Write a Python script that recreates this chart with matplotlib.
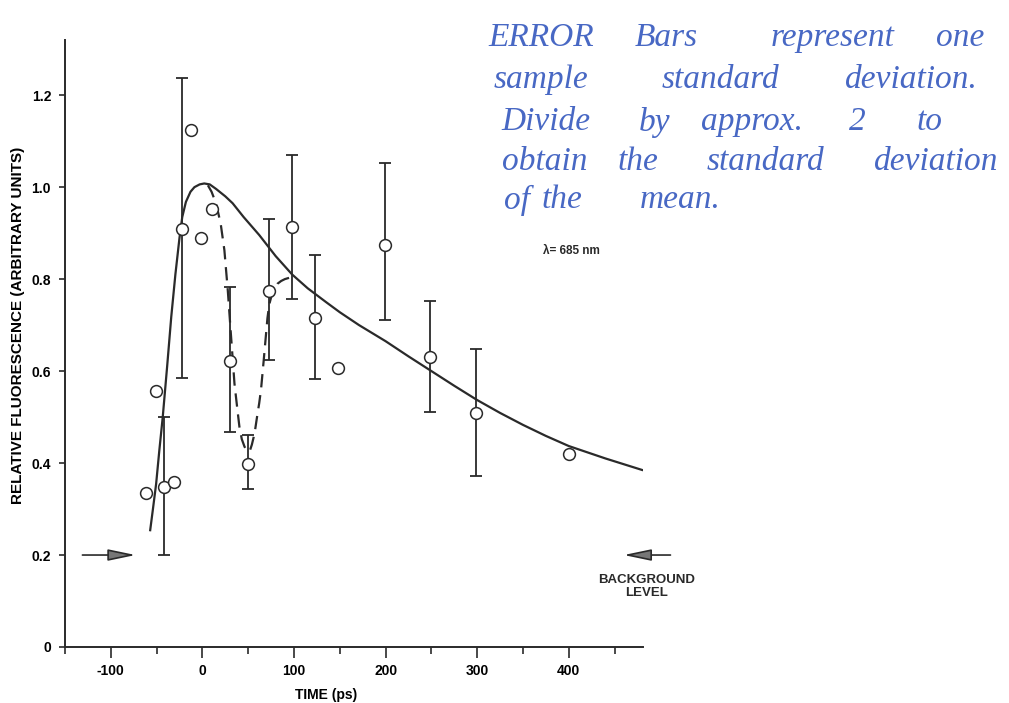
import matplotlib
matplotlib.use('Agg')
import matplotlib.pyplot as plt
from matplotlib.ticker import MultipleLocator

plt.rcParams['font.family'] = ['Liberation Sans', 'DejaVu Sans']

# measured points (time in ps, relative fluorescence)
t_pts = [-62, -51, -42, -31, -22, -12, -1, 10, 30, 50, 73, 98, 123, 148, 199, 249, 299, 400]
f_pts = [0.335, 0.557, 0.349, 0.359, 0.908, 1.125, 0.89, 0.952, 0.622, 0.398,
         0.775, 0.914, 0.716, 0.607, 0.874, 0.631, 0.509, 0.42]

# error bars (one sample standard deviation)
err_t = [-42, -22, 30, 50, 73, 98, 123, 199, 249, 299]
err_lo = [0.20, 0.585, 0.468, 0.343, 0.624, 0.756, 0.582, 0.712, 0.512, 0.372]
err_hi = [0.50, 1.237, 0.783, 0.461, 0.93, 1.07, 0.853, 1.053, 0.752, 0.647]

# solid fitted curve
fit_t = [-57, -54, -50.5, -47, -43.3, -38.5, -34, -29.5, -25, -22, -18, -13, -8.7, -3, 2,
         8, 15, 25, 33, 45, 62, 80, 98, 115, 135, 150, 171, 200, 225, 250, 275, 300,
         325, 350, 375, 400, 440, 480]
fit_y = [0.254, 0.30, 0.355, 0.428, 0.50, 0.61, 0.718, 0.81, 0.89, 0.935, 0.968, 0.99,
         1.0, 1.006, 1.008, 1.006, 0.996, 0.98, 0.965, 0.935, 0.896, 0.85, 0.81, 0.78,
         0.75, 0.728, 0.70, 0.665, 0.632, 0.60, 0.568, 0.537, 0.509, 0.483, 0.459,
         0.437, 0.41, 0.385]

# dashed curve through the dip
dash_t = [6, 10, 15, 20, 24, 27.7, 31.3, 35, 38, 40.4, 43, 45.9, 48, 50, 52, 54, 57,
          60, 62, 64, 67, 69, 71, 73, 76, 79, 82, 86, 90, 95, 98]
dash_y = [1.004, 0.99, 0.964, 0.92, 0.863, 0.776, 0.675, 0.573, 0.52, 0.479, 0.452,
          0.436, 0.428, 0.425, 0.428, 0.44, 0.465, 0.505, 0.53, 0.56, 0.625, 0.67,
          0.715, 0.745, 0.768, 0.78, 0.79, 0.796, 0.80, 0.803, 0.805]

xticks = [-100, 0, 100, 200, 300, 400]
xtick_labels = ['-100', '0', '100', '200', '300', '400']
yticks = [0, 0.2, 0.4, 0.6, 0.8, 1.0, 1.2]
ytick_labels = ['0', '0.2', '0.4', '0.6', '0.8', '1.0', '1.2']

ink = '#2a2a2a'

fig = plt.figure(figsize=(10.09, 7.03), dpi=100)
ax = fig.add_axes([65 / 1009, 1 - 647 / 703, 578 / 1009, 607 / 703])

ax.plot(fit_t, fit_y, color=ink, lw=1.6, zorder=2)
ax.plot(dash_t, dash_y, color=ink, lw=1.6, dashes=(6, 3.5), zorder=2)

# error bars
err_mid = [f_pts[t_pts.index(t)] for t in err_t]
yerr = [[m - lo for m, lo in zip(err_mid, err_lo)],
        [hi - m for m, hi in zip(err_mid, err_hi)]]
ax.errorbar(err_t, err_mid, yerr=yerr, fmt='none',
            ecolor=ink, elinewidth=1.3, capsize=4.5, capthick=1.3, zorder=3)

ax.plot(t_pts, f_pts, 'o', ms=8.5, mfc='white', mec=ink, mew=1.1, zorder=4)

ax.set_xlim(-150, 481)
ax.set_ylim(0, 1.32)
ax.spines['top'].set_visible(False)
ax.spines['right'].set_visible(False)
for s in ['left', 'bottom']:
    ax.spines[s].set_linewidth(1.4)
    ax.spines[s].set_color(ink)

ax.set_xticks(xticks)
ax.set_xticklabels(xtick_labels, fontsize=10, fontweight='bold')
ax.xaxis.set_minor_locator(MultipleLocator(50))
ax.set_yticks(yticks)
ax.set_yticklabels(ytick_labels, fontsize=10, fontweight='bold')
ax.tick_params(axis='x', which='major', length=8, width=1.2, color=ink, pad=4)
ax.tick_params(axis='x', which='minor', length=5, width=1.2, color=ink)
ax.tick_params(axis='y', which='major', length=4, width=1.2, color=ink, pad=6)

ax.set_xlabel('TIME (ps)', fontsize=10, fontweight='bold', va='center')
ax.xaxis.set_label_coords(0.452, -0.079)
ax.set_ylabel('RELATIVE FLUORESCENCE (ARBITRARY UNITS)', fontsize=11,
              fontweight='bold', va='center')
ax.yaxis.set_label_coords(-0.081, 0.53)

# background level arrows
arr = dict(arrowstyle='-|>,head_length=1.2,head_width=0.25', color=ink,
           lw=1.2, fc='#777777', mutation_scale=14, shrinkA=0, shrinkB=0)
ax.annotate('', xy=(-73, 0.2), xytext=(-131, 0.2), arrowprops=arr)
ax.annotate('', xy=(460, 0.2), xytext=(511, 0.2), arrowprops=arr,
            annotation_clip=False)
ax.text(485, 0.132, 'BACKGROUND\nLEVEL', ha='center', va='center', fontsize=9.5,
        fontweight='bold', linespacing=1.15, clip_on=False, color=ink)

ax.text(403, 0.861, 'λ= 685 nm', ha='center', va='center', fontsize=8.5,
        fontweight='bold', color=ink)

# handwritten note (word centres in pixels)
note = [
    ('ERROR', 541, 38), ('Bars', 666, 38), ('represent', 833, 38), ('one', 960, 38),
    ('sample', 541, 80), ('standard', 720, 80), ('deviation.', 911, 80),
    ('Divide', 546, 122), ('by', 655, 122), ('approx.', 752, 122), ('2', 857, 122),
    ('to', 930, 122),
    ('obtain', 545, 162), ('the', 638, 162), ('standard', 765, 162),
    ('deviation', 936, 162),
    ('of', 517, 200), ('the', 562, 200), ('mean.', 680, 200),
]
for word, px, py in note:
    fig.text(px / 1009, 1 - py / 703, word, fontsize=24, style='italic',
             family='Liberation Serif', color='#4868c4', va='center', ha='center')

fig.savefig('out.png', dpi=100)
